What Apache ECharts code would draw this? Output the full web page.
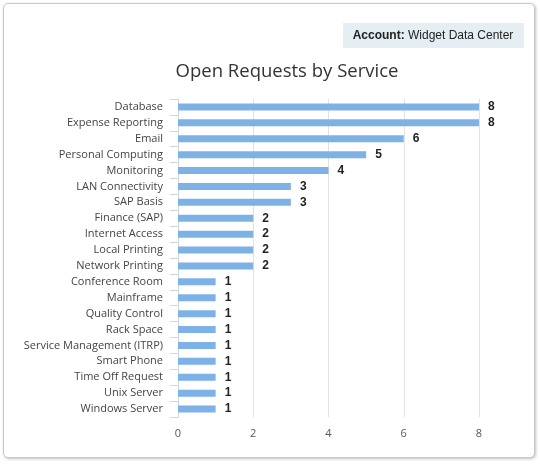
<!DOCTYPE html>
<html><head><meta charset="utf-8">
<script src="https://cdn.jsdelivr.net/npm/echarts@6/dist/echarts.min.js"></script>
<style>
html,body{margin:0;padding:0;background:#fff;}
#card{position:absolute;left:3px;top:3px;width:530px;height:453px;border:1px solid #c8c8c8;border-radius:5px;box-shadow:1px 1px 3px rgba(0,0,0,0.25);background:#fff;}
#chart{position:absolute;left:0;top:0;width:540px;height:464px;}
</style></head>
<body>
<div id="card"></div>
<div id="chart"></div>
<script>
const categories = ["Database","Expense Reporting","Email","Personal Computing","Monitoring","LAN Connectivity","SAP Basis","Finance (SAP)","Internet Access","Local Printing","Network Printing","Conference Room","Mainframe","Quality Control","Rack Space","Service Management (ITRP)","Smart Phone","Time Off Request","Unix Server","Windows Server"];
const values = [8,8,6,5,4,3,3,2,2,2,2,1,1,1,1,1,1,1,1,1];
const xTicks = [0,2,4,6,8];
const titleText = "Open Requests by Service";
const badgeLabel = "Account:";
const badgeValue = "Widget Data Center";

const chart = echarts.init(document.getElementById('chart'));
chart.setOption({
  backgroundColor: 'transparent',
  animation: false,
  title: {
    text: titleText, left: 282, top: 57, textAlign: 'center',
    textStyle: {fontFamily: 'Open Sans', fontSize: 18.5, fontWeight: 'normal', color: '#333'}
  },
  graphic: [{
    type: 'rect', shape: {x: 343, y: 23, width: 181, height: 25},
    style: {fill: '#e4eef3'}
  },{
    type: 'text', x: 433, y: 36,
    style: {
      text: '{b|' + badgeLabel + '} {n|' + badgeValue + '}',
      align: 'center', verticalAlign: 'middle',
      rich: {
        b: {fontFamily: 'Liberation Sans', fontSize: 12, fontWeight: 'bold', fill: '#222'},
        n: {fontFamily: 'Liberation Sans', fontSize: 12, fill: '#222'}
      }
    }
  }],
  grid: {left: 178, top: 99, width: 301, height: 318, containLabel: false},
  xAxis: {
    type: 'value', min: 0, max: 8, interval: 2,
    axisLine: {show: false}, axisTick: {show: false},
    splitLine: {lineStyle: {color: '#e2e2e2'}},
    axisLabel: {fontFamily: 'Open Sans', fontSize: 11, color: '#555', margin: 11,
      formatter: v => xTicks.includes(v) ? String(v) : ''}
  },
  yAxis: {
    type: 'category', data: categories, inverse: true,
    axisLine: {lineStyle: {color: '#d0d6e0'}},
    axisTick: {show: true, length: 8, lineStyle: {color: '#d0d6e0'}},
    axisLabel: {fontFamily: 'Open Sans', fontSize: 11, color: '#444', margin: 15}
  },
  series: [{
    type: 'bar', data: values, barWidth: 7,
    itemStyle: {color: '#7eb2e6'},
    label: {show: true, position: 'right', distance: 9, fontFamily: 'Liberation Sans', fontSize: 12, fontWeight: 'bold', color: '#222'}
  }]
});
</script>
</body></html>
